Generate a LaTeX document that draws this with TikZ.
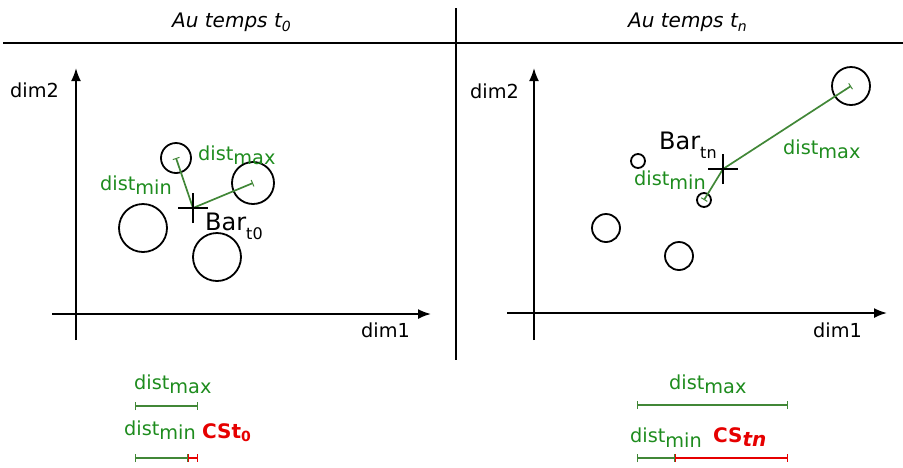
\documentclass[tikz,border=0pt]{standalone}
\usepackage{fontspec}
\setmainfont{DejaVu Sans}
\usetikzlibrary{arrows.meta}
\definecolor{gtext}{RGB}{30,140,30}
\definecolor{gline}{RGB}{65,135,55}
\definecolor{cred}{RGB}{230,0,0}
\newcommand\fs[1]{\fontsize{#1}{#1}\selectfont}
\newcommand\lowr[2]{\raisebox{-#1pt}{#2}}
\begin{document}
\begin{tikzpicture}[x=1pt,y=-1pt,
  lbl/.style={anchor=base west, inner sep=0, font=\fs{19.3}},
  glbl/.style={lbl, text=gtext},
  ttl/.style={anchor=base west, inner sep=0, font=\fs{20}\itshape},
  ptc/.style={circle, draw, line width=1.8pt, inner sep=0},
  axis/.style={line width=1.8pt, -{Latex[length=13pt,width=10pt]}},
  crossline/.style={line width=1.8pt},
  sepline/.style={line width=1.2pt},
  gseg/.style={draw=gline, line width=1.7pt, -{Bar[width=7pt,line width=1pt]}},
  mseg/.style={draw=gline, line width=1.7pt, {Bar[width=8pt,line width=1.2pt]}-{Bar[width=8pt,line width=1.2pt]}},
  rseg/.style={draw=cred, line width=1.7pt, {Bar[width=8pt,line width=1.2pt]}-{Bar[width=8pt,line width=1.2pt]}},
  redlbl/.style={anchor=base west, inner sep=0, text=cred, font=\fs{20}\bfseries}
]
\useasboundingbox (0,0) rectangle (903,467);

% separators
\coordinate (h1) at (3,43); \coordinate (h2) at (903,43);
\coordinate (v1) at (456,8); \coordinate (v2) at (456,360);
\draw[sepline] (h1) -- (h2);
\draw[sepline] (v1) -- (v2);

% titles
\node[ttl] (t0) at (172,27) {Au temps t\lowr{4}{\fs{14}0}};
\node[ttl] (tn) at (628,27) {Au temps t\lowr{4}{\fs{14}n}};

% ---------- left panel ----------
\coordinate (ly1) at (76,340); \coordinate (ly2) at (76,68);
\coordinate (lx1) at (52,314); \coordinate (lx2) at (431,314);
\draw[axis] (ly1) -- (ly2);
\draw[axis] (lx1) -- (lx2);
\node[lbl] (ldim2) at (10,97) {dim2};
\node[lbl] (ldim1) at (361,337) {dim1};

\node[ptc, minimum size=30] (lc1) at (176,158) {};
\node[ptc, minimum size=42] (lc2) at (253,183) {};
\node[ptc, minimum size=48] (lc3) at (143,228) {};
\node[ptc, minimum size=48] (lc4) at (217,257) {};

\coordinate (lb) at (193,208);
\draw[gseg] (lb) -- (lc1.center);
\draw[gseg] (lb) -- (lc2.center);
\draw[crossline] ([xshift=-15pt]lb) -- ([xshift=15pt]lb);
\draw[crossline] ([yshift=-15pt]lb) -- ([yshift=15pt]lb);

\node[glbl] (ldmax) at (198,160) {dist\lowr{4}{max}};
\node[glbl] (ldmin) at (100,190) {dist\lowr{4}{min}};
\node[anchor=base west, inner sep=0, font=\fs{24}] (lbar) at (205,230) {Bar\lowr{9}{\fs{16}t0}};

% ---------- right panel ----------
\coordinate (ry1) at (534,340); \coordinate (ry2) at (534,68);
\coordinate (rx1) at (507,313); \coordinate (rx2) at (887,313);
\draw[axis] (ry1) -- (ry2);
\draw[axis] (rx1) -- (rx2);
\node[lbl] (rdim2) at (470,98) {dim2};
\node[lbl] (rdim1) at (813,337) {dim1};

\node[ptc, minimum size=38] (rc1) at (851,86) {};
\node[ptc, minimum size=14] (rc2) at (638,161) {};
\node[ptc, minimum size=14] (rc3) at (704,200) {};
\node[ptc, minimum size=28] (rc4) at (606,228) {};
\node[ptc, minimum size=28] (rc5) at (679,256) {};

\coordinate (rb) at (723,169);
\draw[gseg] (rb) -- (rc1.center);
\draw[gseg] (rb) -- (rc3.center);
\draw[crossline] ([xshift=-15pt]rb) -- ([xshift=15pt]rb);
\draw[crossline] ([yshift=-15pt]rb) -- ([yshift=15pt]rb);

\node[anchor=base west, inner sep=0, font=\fs{24}] (rbar) at (659,149) {Bar\lowr{9}{\fs{16}tn}};
\node[glbl] (rdmin) at (634,185) {dist\lowr{4}{min}};
\node[glbl] (rdmax) at (783,154) {dist\lowr{4}{max}};

% ---------- bottom left ----------
\node[glbl] (bldmax) at (134,389) {dist\lowr{4}{max}};
\coordinate (bla) at (135,406); \coordinate (blb) at (198,406);
\draw[mseg] (bla) -- (blb);
\node[glbl] (bldmin) at (124,435) {dist\lowr{4}{min}};
\node[redlbl] (blcs) at (202,438) {CSt\lowr{3}{\fs{14}0}};
\coordinate (blc) at (135,458); \coordinate (bld) at (188,458); \coordinate (ble) at (198,458);
\draw[mseg] (blc) -- (bld);
\draw[rseg] (bld) -- (ble);

% ---------- bottom right ----------
\node[glbl] (brdmax) at (669,389) {dist\lowr{4}{max}};
\coordinate (bra) at (637,405); \coordinate (brb) at (788,405);
\draw[mseg] (bra) -- (brb);
\node[glbl] (brdmin) at (630,442) {dist\lowr{5}{min}};
\node[redlbl] (brcs) at (713,442) {CS\lowr{4}{\itshape tn}};
\coordinate (brc) at (637,458); \coordinate (brd) at (675,458); \coordinate (bre) at (788,458);
\draw[mseg] (brc) -- (brd);
\draw[rseg] (brd) -- (bre);
\end{tikzpicture}
\end{document}
